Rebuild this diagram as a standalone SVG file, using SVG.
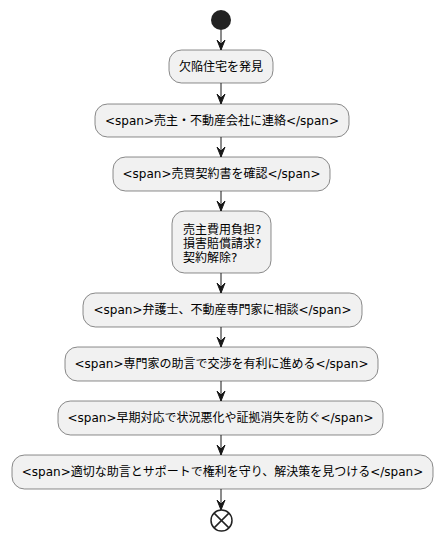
<svg xmlns="http://www.w3.org/2000/svg" width="442" height="539" viewBox="0 0 442 539">
<style>
.box{fill:#F1F1F1;stroke:#181818;stroke-width:0.5}
.t{font-family:"DejaVu Sans","Noto Sans CJK JP",sans-serif;font-size:12px;fill:#000}
.c{text-anchor:middle}
.ln{stroke:#181818;stroke-width:1;fill:none}
.ah{fill:#181818;stroke:#181818;stroke-width:1}
</style>
<rect width="442" height="539" fill="#FFFFFF"/>
<g id="connectors">
<line class="ln" x1="221" y1="30" x2="221" y2="50"/><polygon class="ah" points="217,40 221,50 225,40 221,44"/>
<line class="ln" x1="221" y1="83" x2="221" y2="104"/><polygon class="ah" points="217,94 221,104 225,94 221,98"/>
<line class="ln" x1="221" y1="137" x2="221" y2="157"/><polygon class="ah" points="217,147 221,157 225,147 221,151"/>
<line class="ln" x1="221" y1="191" x2="221" y2="211"/><polygon class="ah" points="217,201 221,211 225,201 221,205"/>
<line class="ln" x1="221" y1="273" x2="221" y2="293"/><polygon class="ah" points="217,283 221,293 225,283 221,287"/>
<line class="ln" x1="221" y1="327" x2="221" y2="347"/><polygon class="ah" points="217,337 221,347 225,337 221,341"/>
<line class="ln" x1="221" y1="381" x2="221" y2="401"/><polygon class="ah" points="217,391 221,401 225,391 221,395"/>
<line class="ln" x1="221" y1="435" x2="221" y2="455"/><polygon class="ah" points="217,445 221,455 225,445 221,449"/>
<line class="ln" x1="221" y1="489" x2="221" y2="510"/><polygon class="ah" points="217,500 221,510 225,500 221,504"/>
</g>
<g id="start"><circle cx="221" cy="20" r="10" fill="#222222"/></g>
<g id="n1"><rect class="box" x="169" y="50" width="104" height="33" rx="12.5"/><text class="t c" x="221" y="71">欠陥住宅を発見</text></g>
<g id="n2"><rect class="box" x="95" y="104" width="254" height="33" rx="12.5"/><text class="t c" x="222" y="125">&lt;span&gt;売主・不動産会社に連絡&lt;/span&gt;</text></g>
<g id="n3"><rect class="box" x="113" y="157" width="217" height="34" rx="12.5"/><text class="t c" x="221.5" y="178">&lt;span&gt;売買契約書を確認&lt;/span&gt;</text></g>
<g id="n4"><rect class="box" x="172" y="211" width="99" height="62" rx="12.5"/><text class="t" x="183" y="234">売主費用負担?</text><text class="t" x="183" y="248">損害賠償請求?</text><text class="t" x="183" y="262">契約解除?</text></g>
<g id="n5"><rect class="box" x="83" y="293" width="279" height="34" rx="12.5"/><text class="t c" x="222.5" y="314">&lt;span&gt;弁護士、不動産専門家に相談&lt;/span&gt;</text></g>
<g id="n6"><rect class="box" x="65" y="347" width="313" height="34" rx="12.5"/><text class="t c" x="221.5" y="368">&lt;span&gt;専門家の助言で交渉を有利に進める&lt;/span&gt;</text></g>
<g id="n7"><rect class="box" x="58" y="401" width="325" height="34" rx="12.5"/><text class="t c" x="220.5" y="422">&lt;span&gt;早期対応で状況悪化や証拠消失を防ぐ&lt;/span&gt;</text></g>
<g id="n8"><rect class="box" x="12" y="455" width="421" height="34" rx="12.5"/><text class="t c" x="222.5" y="476">&lt;span&gt;適切な助言とサポートで権利を守り、解決策を見つける&lt;/span&gt;</text></g>
<g id="end"><circle cx="221.5" cy="520.5" r="10.5" fill="#FFFFFF" stroke="#222222" stroke-width="1.5"/><line x1="214.1" y1="513.1" x2="228.9" y2="527.9" stroke="#222222" stroke-width="1.5"/><line x1="228.9" y1="513.1" x2="214.1" y2="527.9" stroke="#222222" stroke-width="1.5"/></g>
</svg>
